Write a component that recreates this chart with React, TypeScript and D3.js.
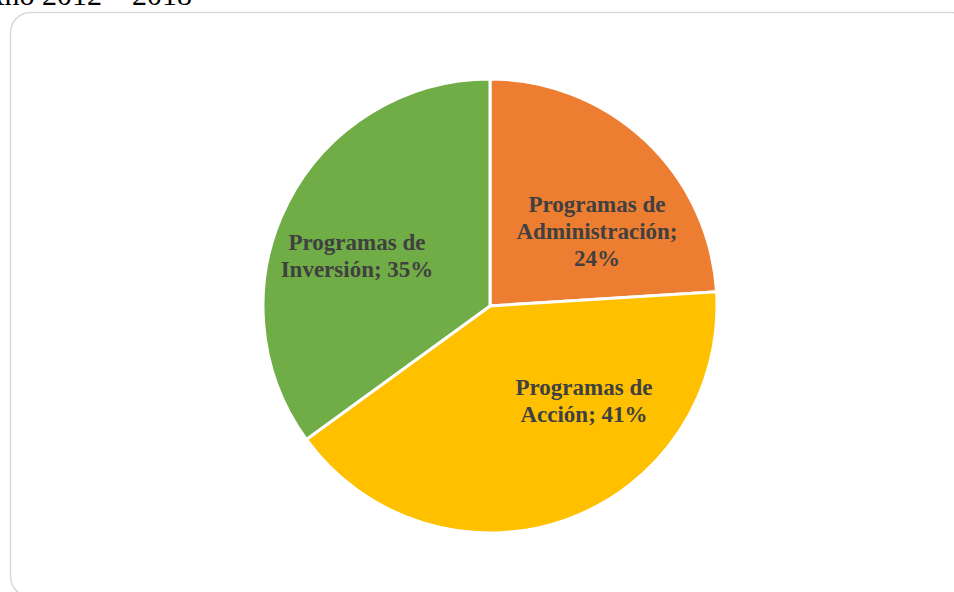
import React from "react";
import * as d3 from "d3";

const categories = ["Programas de Administración", "Programas de Acción", "Programas de Inversión"];
const values = [24, 41, 35];
const labelLines = [
  ["Programas de", "Administración;", "24%"],
  ["Programas de", "Acción; 41%"],
  ["Programas de", "Inversión; 35%"],
];
const colors = ["#ED7D31", "#FFC000", "#70AD47"];
const titleText = "Año 2012 – 2018";

const W = 954;
const H = 592;
const cx = 490;
const cy = 306;
const R = 227;

export default function App() {
  const pie = d3.pie<number>().sort(null).value((d) => d);
  const arcs = pie(values);
  const arc = d3.arc<d3.PieArcDatum<number>>().innerRadius(0).outerRadius(R);
  const lineH = 27;
  const labelPos = [
    [597, 212],
    [584, 395],
    [357, 250],
  ];
  return (
    <svg
      width={W}
      height={H}
      style={{ position: "absolute", left: 0, top: 0 }}
      fontFamily="'Liberation Serif', 'Times New Roman', serif"
    >
      <rect width={W} height={H} fill="#fff" />
      <text x={192} y={5} textAnchor="end" fontSize={30} fill="#000">
        {titleText}
      </text>
      <rect x={10.5} y={12.5} width={960} height={584} rx={20} ry={20} fill="#fff" stroke="#d9d9d9" strokeWidth={1.5} />
      <g transform={`translate(${cx},${cy})`}>
        {arcs.map((a, i) => (
          <path key={categories[i]} d={arc(a) || ""} fill={colors[i]} stroke="#fff" strokeWidth={3} />
        ))}
      </g>
      {arcs.map((a, i) => (
        <text
          key={"l" + i}
          x={labelPos[i][0]}
          y={labelPos[i][1]}
          textAnchor="middle"
          fontSize={23}
          fontWeight="bold"
          fill="#404040"
        >
          {labelLines[i].map((ln, j) => (
            <tspan key={j} x={labelPos[i][0]} y={labelPos[i][1] + j * lineH}>
              {ln}
            </tspan>
          ))}
        </text>
      ))}
    </svg>
  );
}
